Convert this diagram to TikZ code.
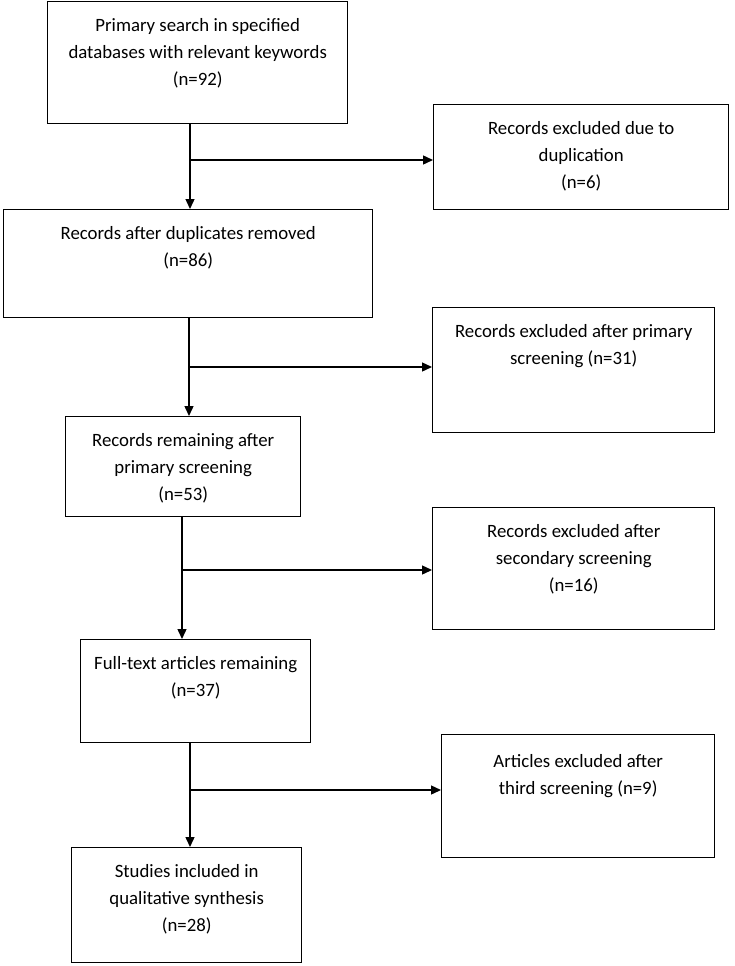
\documentclass[tikz,border=0pt]{standalone}
\usepackage{fontspec}
\setmainfont{Carlito}
\usetikzlibrary{arrows.meta}

\begin{document}
\begin{tikzpicture}[
    x=1pt, y=-1pt, %pixel units, y pointing down
    box/.style={draw, line width=1.4pt, anchor=north west, inner sep=0pt},
    txt/.style={anchor=north, yshift=-17pt, inner sep=0pt, align=center,
        font=\fontsize{18.8}{27}\selectfont},
    link/.style={line width=1.4pt},
    >={Triangle[length=10pt,width=9pt]},
    ]
    \useasboundingbox (0,0) rectangle (734,966);

    %main column
    \node[box, minimum width=300pt, minimum height=122pt,
        label={[txt]north:Primary search in specified\\databases with relevant keywords\\(n=92)}]
        (search) at (47,1) {};
    \node[box, minimum width=369pt, minimum height=108pt,
        label={[txt]north:Records after duplicates removed\\(n=86)}]
        (dedup) at (3,209) {};
    \node[box, minimum width=235pt, minimum height=100pt,
        label={[txt]north:Records remaining after\\primary screening\\(n=53)}]
        (remain) at (65,416) {};
    \node[box, minimum width=230pt, minimum height=103pt,
        label={[txt]north:Full-text articles remaining\\(n=37)}]
        (fulltext) at (80,639) {};
    \node[box, minimum width=230pt, minimum height=115pt,
        label={[txt]north:Studies included in\\qualitative synthesis\\(n=28)}]
        (studies) at (71,847) {};

    %excluded records
    \node[box, minimum width=295pt, minimum height=105pt,
        label={[txt]north:Records excluded due to\\duplication\\(n=6)}]
        (exdup) at (433,104) {};
    \node[box, minimum width=282pt, minimum height=125pt,
        label={[txt]north:Records excluded after primary\\screening (n=31)}]
        (exprim) at (432,307) {};
    \node[box, minimum width=282pt, minimum height=122pt,
        label={[txt]north:Records excluded after\\secondary screening\\(n=16)}]
        (exsec) at (432,507) {};
    \node[box, minimum width=273pt, minimum height=123pt,
        label={[txt, yshift=-3pt]north:Articles excluded after\\third screening (n=9)}]
        (exthird) at (441,734) {};

    %branch points
    \coordinate (br1) at (190,160);
    \coordinate (br2) at (189,367);
    \coordinate (br3) at (182,570);
    \coordinate (br4) at (190,790);

    %arrows
    \draw[link,->] (search.south -| br1) -- (dedup.north -| br1);
    \draw[link,->] (br1) -- (exdup.west |- br1);
    \draw[link,->] (dedup.south -| br2) -- (remain.north -| br2);
    \draw[link,->] (br2) -- (exprim.west |- br2);
    \draw[link,->] (remain.south -| br3) -- (fulltext.north -| br3);
    \draw[link,->] (br3) -- (exsec.west |- br3);
    \draw[link,->] (fulltext.south -| br4) -- (studies.north -| br4);
    \draw[link,->] (br4) -- (exthird.west |- br4);

\end{tikzpicture}
\end{document}
